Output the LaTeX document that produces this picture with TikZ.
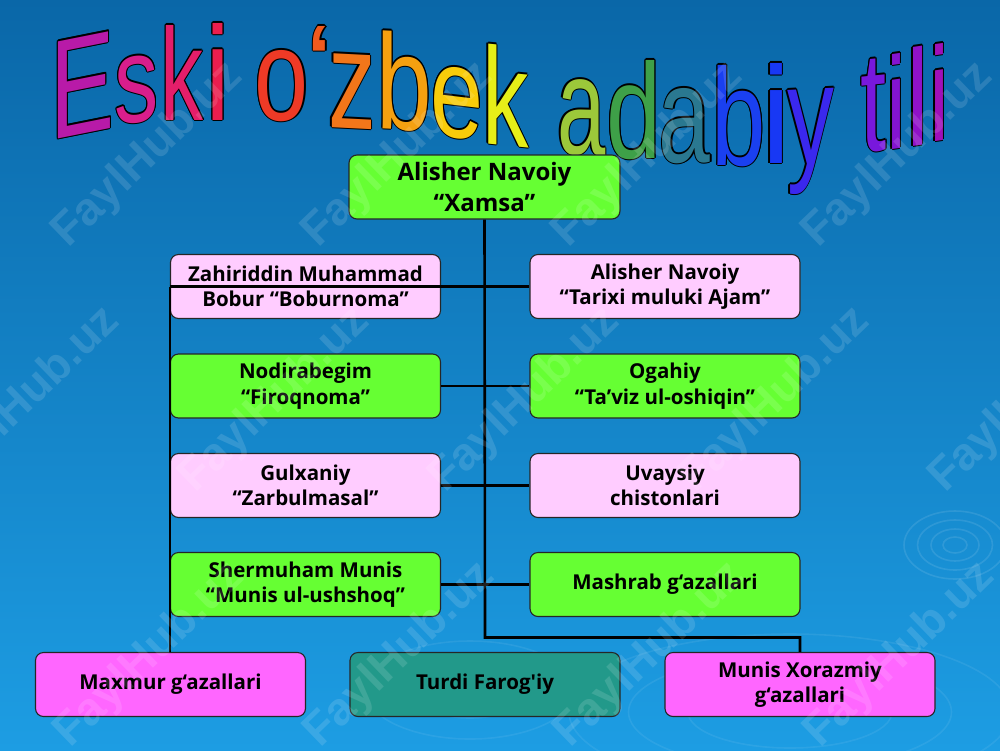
\documentclass[tikz,border=0pt]{standalone}
\usepackage{fontspec}
\setmainfont{Open Sans}
\newfontfamily\titlefont{Liberation Sans}
\newfontfamily\wmfont{Liberation Sans}
\usepackage{graphicx}
\definecolor{bgtop}{HTML}{0A67A8}
\definecolor{bgbot}{HTML}{1D9DE3}
\definecolor{boxgreen}{HTML}{66FF33}
\definecolor{boxpink}{HTML}{FFCCFF}
\definecolor{boxmag}{HTML}{FF66FF}
\definecolor{boxteal}{HTML}{22998A}
\definecolor{cE}{HTML}{B81AA8}
\definecolor{cs}{HTML}{D81E8C}
\definecolor{ck}{HTML}{E41E6A}
\definecolor{ci}{HTML}{EA1E4E}
\definecolor{co}{HTML}{EE3A26}
\definecolor{cq}{HTML}{F05A1E}
\definecolor{cz}{HTML}{F2761A}
\definecolor{cb}{HTML}{F5A010}
\definecolor{ce}{HTML}{F8CC0A}
\definecolor{ckk}{HTML}{E6EE18}
\definecolor{ca}{HTML}{9CC83A}
\definecolor{cd}{HTML}{3EA048}
\definecolor{caa}{HTML}{2A7890}
\definecolor{cbb}{HTML}{1A40F0}
\definecolor{cii}{HTML}{1838F4}
\definecolor{cy}{HTML}{3A28EE}
\definecolor{ct}{HTML}{7818DC}
\definecolor{ciii}{HTML}{8414D0}
\definecolor{cl}{HTML}{9012C8}
\definecolor{ciiii}{HTML}{A010B8}
% title letter: name, left, baseline, width, height, slant, colour, char
\newcommand\TL[8]{%
  \begin{scope}[shift={(#2,-#3)}, yslant=#6, transform shape]
    \foreach \dx/\dy in {-1.2/0,1.2/0,0/-1.2,0/1.2,-.85/-.85,.85/.85,-.85/.85,.85/-.85}
      \node[tl, text=black] at (\dx,\dy) {\resizebox{#4pt}{#5pt}{#8}};
    \node[tl, text=#7] (#1) at (0,0) {\resizebox{#4pt}{#5pt}{#8}};
  \end{scope}}
\begin{document}
\begin{tikzpicture}[x=1pt,y=1pt,
  box/.style={draw=black!85, line width=1.1pt, rounded corners=8pt,
    minimum width=270pt, minimum height=64pt, inner sep=0pt, align=center,
    font=\bfseries\fontsize{20.5}{25.5}\selectfont, text=black},
  conn/.style={draw=black, line width=2.6pt},
  tl/.style={inner sep=0pt, outer sep=0pt, anchor=base west, font=\titlefont},
  wm/.style={font=\wmfont\bfseries\fontsize{46}{46}\selectfont, text=white,
    opacity=0.13, rotate=44, inner sep=0pt},
  ripple/.style={draw=white, line width=1.6pt, opacity=0.10}]
\useasboundingbox (0,0) rectangle (1000,-750);
\shade[top color=bgtop, bottom color=bgbot] (0,0) rectangle (1000,-750);
% ripples
\foreach \r in {8,16,25,34}
  \draw[ripple] (955,-545) ellipse ({\r*1.5} and {\r});
\foreach \r in {60,95,130}
  \draw[ripple, opacity=0.07] (790,-712) ellipse ({\r*1.7} and {\r*0.6});
\foreach \r in {40,70}
  \draw[ripple, opacity=0.07] (470,-690) ellipse ({\r*1.5} and {\r*0.7});
% title
\TL{l1}{50.3}{140}{64}{97}{0.2}{cE}{E}
\TL{l2}{114.3}{124}{44.2}{66}{0.1}{cs}{s}
\TL{l3}{160.4}{120}{43}{95}{0}{ck}{k}
\TL{l4}{205.5}{120}{25}{97}{0}{ci}{i}
\TL{l5}{254.8}{120}{54}{70}{0}{co}{o}
\TL{l6}{305.9}{102}{28}{76}{0}{cq}{‘}
\TL{l7}{328.1}{127}{47.8}{74}{-0.05}{cz}{z}
\TL{l8}{376.3}{128}{55.6}{98}{-0.05}{cb}{b}
\TL{l9}{430.3}{134}{53}{70}{-0.12}{ce}{e}
\TL{l10}{482}{143}{46.5}{100}{-0.1}{ckk}{k}
\TL{l11}{557.1}{153}{48.3}{75}{-0.05}{ca}{a}
\TL{l12}{606.7}{158}{54.9}{98}{0}{cd}{d}
\TL{l13}{658.9}{162}{51.7}{74}{0}{caa}{a}
\TL{l14}{711.5}{165}{54.3}{100}{0}{cbb}{b}
\TL{l15}{761}{163}{30}{100}{0}{cii}{i}
\TL{l16}{787.1}{165}{46.9}{75}{0.05}{cy}{y}
\TL{l17}{860.7}{152}{26.1}{92}{0.1}{ct}{t}
\TL{l18}{886}{150}{20}{95}{0.15}{ciii}{i}
\TL{l19}{906.1}{147}{23}{99}{0.15}{cl}{l}
\TL{l20}{929}{142}{20}{97}{0.15}{ciiii}{i}
% boxes
\node[box, fill=boxgreen, minimum width=271pt, font=\bfseries\fontsize{24}{31}\selectfont] (xamsa) at (484.5,-187) {Alisher Navoiy\\“Xamsa”};
\node[box, fill=boxpink] (zahir) at (305.5,-286.5) {Zahiriddin Muhammad\\Bobur “Boburnoma”};
\node[box, fill=boxpink] (tarixi) at (665,-286.5) {Alisher Navoiy\\“Tarixi muluki Ajam”};
\node[box, fill=boxgreen] (nodira) at (305.5,-386) {Nodirabegim\\“Firoqnoma”};
\node[box, fill=boxgreen] (ogahiy) at (665,-386) {Ogahiy\\“Ta’viz ul-oshiqin”};
\node[box, fill=boxpink] (gulx) at (305.5,-485.5) {Gulxaniy\\“Zarbulmasal”};
\node[box, fill=boxpink] (uvay) at (665,-485.5) {Uvaysiy\\chistonlari};
\node[box, fill=boxgreen] (sherm) at (305.5,-584.5) {Shermuham Munis\\“Munis ul-ushshoq”};
\node[box, fill=boxgreen] (mashrab) at (665,-584.5) {Mashrab g‘azallari};
\node[box, fill=boxmag] (maxmur) at (170.5,-684.5) {Maxmur g‘azallari};
\node[box, fill=boxteal] (turdi) at (485,-684.5) {Turdi Farog\textquotesingle iy};
\node[box, fill=boxmag] (munisx) at (800,-684.5) {Munis Xorazmiy\\g‘azallari};
% connectors
\coordinate (turn) at (485,-637.5);
\draw[conn] (xamsa.south) -- (turn) -| (munisx.north);
\draw[conn] (zahir.west) -- (tarixi.west);
\draw[conn] (zahir.west) -- (zahir.west |- maxmur.north);
\draw[conn] (nodira.east) -- (ogahiy.west);
\draw[conn] (gulx.east) -- (uvay.west);
\draw[conn] (sherm.east) -- (mashrab.west);
% watermarks
\foreach \x/\y [count=\i] in {148/155,398/155,648/155,898/155,
    25/400,275/400,525/400,775/400,1025/400,
    150/655,400/655,650/655,900/655}
  \node[wm] (wm\i) at (\x,-\y) {FaylHub.uz};
\end{tikzpicture}
\end{document}
